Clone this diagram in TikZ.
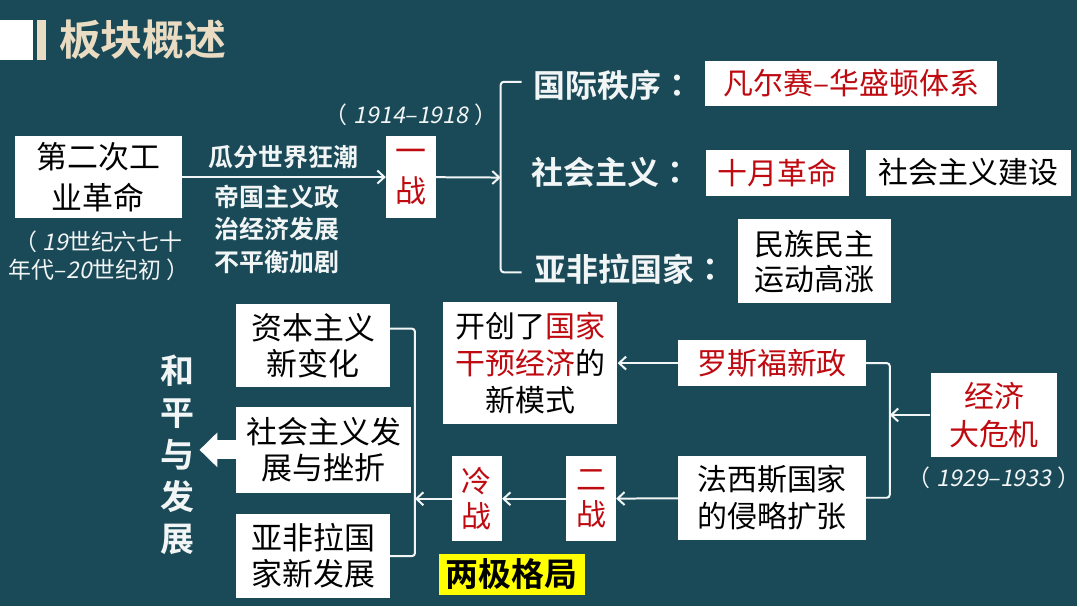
\documentclass[tikz,border=0pt]{standalone}
\usepackage{fontspec}
\setmainfont{Noto Sans CJK SC}[BoldFont={Noto Sans CJK SC Bold}]
\newfontfamily\slantfont{Noto Sans CJK SC}[FakeSlant=0.2]
\newfontfamily\tcpunct{Noto Sans CJK TC}[BoldFont={Noto Sans CJK TC Bold}]
\definecolor{boardTeal}{HTML}{1A4A58}
\definecolor{boardCream}{HTML}{EADCC2}
\definecolor{boardRed}{HTML}{BE0A10}
\definecolor{boardChalk}{HTML}{F2F5F5}
\definecolor{boardYellow}{HTML}{FFFF00}
\usetikzlibrary{arrows.meta, positioning}

\begin{document}
\begin{tikzpicture}[
    x=1pt, y=-1pt,
    box/.style={
      fill=white,
      text=black,
      inner sep=0pt,
      align=center,
      font=\fontsize{30pt}{37pt}\selectfont,
    },
    redbox/.style={box, text=boardRed},
    chalk/.style={text=boardChalk, inner sep=0pt, align=center, font=\bfseries\fontsize{32pt}{37pt}\selectfont},
    datenote/.style={text=boardChalk, inner sep=0pt, align=center, font=\fontsize{23pt}{28pt}\selectfont},
    arr/.style={-{Straight Barb[length=7pt, width=13pt]}, boardChalk, line width=2pt},
    brk/.style={boardChalk, line width=2pt, rounded corners=3pt},
    fatarr/.style={-{Triangle[length=18pt, width=34pt]}, white, line width=19pt},
  ]
    % board + title
    \fill[boardTeal] (0,0) rectangle (1080,608);
    \fill[white] (0,20) rectangle (33,60);
    \fill[boardCream] (37,20) rectangle (46,60);
    \node[anchor=west, text=boardCream, inner sep=0pt, font=\bfseries\fontsize{42pt}{42pt}\selectfont] (title) at (59,40) {板块概述};

    % Industrial revolution -> WWI
    \node[box, minimum width=167pt, minimum height=83pt, font=\fontsize{31pt}{41pt}\selectfont] (gyge) at (98.5,177.5) {第二次工\\业革命};
    \node[datenote] (gydate) at (99,256) {{\tcpunct （}\hspace{5pt}{\slantfont 19}世纪六七十\\年代–{\slantfont 20}世纪初\hspace{5pt}{\tcpunct ）}};
    \node[redbox, minimum width=50pt, minimum height=83pt, font=\fontsize{31pt}{41pt}\selectfont] (yizhan) at (412,177.5) {一\\战};
    \node[datenote, above=10pt of yizhan] (yzdate) {{\tcpunct （}\hspace{6pt}{\slantfont 1914–1918}\hspace{6pt}{\tcpunct ）}};
    \draw[arr] (gyge) -- (yizhan);
    \node[chalk, font=\bfseries\fontsize{25pt}{33pt}\selectfont] (guafen) at (284,158) {瓜分世界狂潮};
    \node[chalk, font=\bfseries\fontsize{25pt}{33pt}\selectfont] (bupingheng) at (278,230) {帝国主义政\\治经济发展\\不平衡加剧};

    % WWI results
    \coordinate (ysTop) at (523,82);
    \coordinate (ysMid) at (502,178);
    \coordinate (ysBot) at (523,273);
    \draw[brk] (ysTop) -| (ysMid) |- (ysBot);
    \draw[arr] (yizhan) -- (ysMid);
    \node[chalk, anchor=west] (zhixu) at (535,86) {国际秩序{\tcpunct ：}};
    \node[redbox, minimum width=293pt, minimum height=45pt] (tixi) at (853.5,83.5) {凡尔赛–华盛顿体系};
    \node[chalk, anchor=west] (shehui) at (533,173) {社会主义{\tcpunct ：}};
    \node[redbox, minimum width=143pt, minimum height=46pt] (shiyue) at (779.5,173) {十月革命};
    \node[box, minimum width=205pt, minimum height=46pt, right=17pt of shiyue] (jianshe) {社会主义建设};
    \node[chalk, anchor=west] (yafeila) at (536,270) {亚非拉国家{\tcpunct ：}};
    \node[box, minimum width=153pt, minimum height=84pt, font=\fontsize{30pt}{35pt}\selectfont] (minzu) at (816.5,262) {民族民主\\运动高涨};

    % Great Depression
    \node[redbox, minimum width=127pt, minimum height=84pt, font=\fontsize{30pt}{38pt}\selectfont] (weiji) at (996.5,416) {经济\\大危机};
    \node[datenote, below=10pt of weiji] (wjdate) {{\tcpunct （}\hspace{6pt}{\slantfont 1929–1933}\hspace{6pt}{\tcpunct ）}};
    \node[redbox, minimum width=188pt, minimum height=46pt] (xinzheng) at (774,364) {罗斯福新政};
    \node[box, minimum width=188pt, minimum height=84pt] (kuozhang) at (774,499) {法西斯国家\\的侵略扩张};
    \coordinate (wjJoin) at (892,416);
    \draw[brk] (xinzheng) -| (wjJoin) |- (kuozhang);
    \draw[arr] (weiji) -- (wjJoin);

    \node[box, minimum width=175pt, minimum height=122pt] (moshi) at (531.5,364) {开创了\textcolor{boardRed}{国家}\\\textcolor{boardRed}{干预经济}的\\新模式};
    \draw[arr] (xinzheng) -- (moshi);

    % WWII -> Cold War
    \node[redbox, minimum width=50pt, minimum height=85pt, font=\fontsize{30pt}{35pt}\selectfont] (erzhan) at (592.5,500) {二\\战};
    \node[redbox, minimum width=50pt, minimum height=85pt, font=\fontsize{30pt}{35pt}\selectfont, left=64pt of erzhan] (lengzhan) {冷\\战};
    \draw[arr] (kuozhang) -- (erzhan);
    \draw[arr] (erzhan) -- (lengzhan);
    \node[fill=boardYellow, inner sep=0pt, minimum width=146pt, minimum height=41pt, font=\bfseries\fontsize{33pt}{33pt}\selectfont] (liangji) at (513,575.5) {两极格局};

    % postwar world
    \node[box, minimum width=154pt, minimum height=83pt, font=\fontsize{31pt}{36pt}\selectfont] (ziben) at (314,346.5) {资本主义\\新变化};
    \node[box, minimum width=175pt, minimum height=86pt, font=\fontsize{31pt}{36pt}\selectfont] (shfz) at (324.5,451) {社会主义发\\展与挫折};
    \node[box, minimum width=154pt, minimum height=85pt, font=\fontsize{31pt}{36pt}\selectfont] (yfl) at (314,557.5) {亚非拉国\\家新发展};
    \coordinate (ftJoin) at (416,500);
    \draw[brk] ([yshift=17pt]ziben.east) -| (ftJoin) |- (yfl.east);
    \draw[arr] (lengzhan) -- (ftJoin);

    \node[chalk, font=\bfseries\fontsize{34pt}{42pt}\selectfont] (heping) at (178,456) {和\\平\\与\\发\\展};
    \coordinate (hpTip) at (200,451);
    \draw[fatarr] (shfz.west) -- (hpTip);
  \end{tikzpicture}
\end{document}
